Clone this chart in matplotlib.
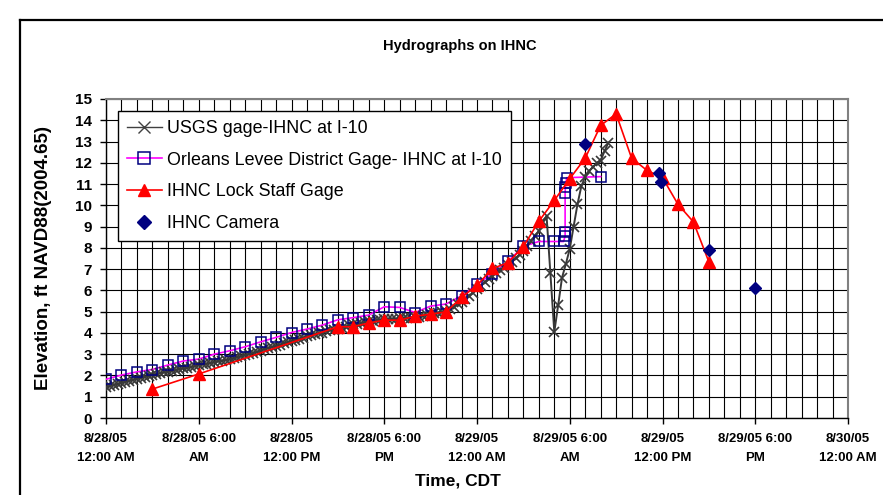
import numpy as np
import matplotlib
matplotlib.use("Agg")
import matplotlib.pyplot as plt
from matplotlib.lines import Line2D
from matplotlib.ticker import MultipleLocator

plt.rcParams['font.family'] = ['Liberation Sans', 'DejaVu Sans']

# hours after 8/28/05 12:00 AM CDT
usgs_t = list(np.arange(0, 28.75, 0.25)) + [28.75, 29.0, 29.25, 29.5, 29.75, 30.0, 30.25,
                                             30.5, 30.75, 31.0, 31.25, 31.5, 31.75, 32.0,
                                             32.25, 32.5]
usgs_v = [1.45, 1.50, 1.56, 1.60, 1.65, 1.70, 1.76, 1.80, 1.85, 1.89, 1.94, 1.98,
          2.02, 2.06, 2.11, 2.14, 2.18, 2.22, 2.26, 2.29, 2.33, 2.37, 2.40, 2.44,
          2.48, 2.52, 2.55, 2.59, 2.62, 2.66, 2.70, 2.73, 2.76, 2.81, 2.85, 2.90,
          2.95, 3.00, 3.06, 3.11, 3.17, 3.23, 3.29, 3.34, 3.40, 3.45, 3.51, 3.56,
          3.62, 3.67, 3.73, 3.78, 3.84, 3.88, 3.93, 3.98, 4.02, 4.07, 4.12, 4.16,
          4.20, 4.25, 4.30, 4.35, 4.40, 4.44, 4.47, 4.51, 4.54, 4.57, 4.60, 4.62,
          4.64, 4.65, 4.66, 4.67, 4.68, 4.69, 4.71, 4.72, 4.74, 4.77, 4.81, 4.84,
          4.88, 4.92, 4.96, 5.00, 5.05, 5.14, 5.24, 5.34, 5.45, 5.59, 5.74, 5.89,
          6.05, 6.21, 6.38, 6.54, 6.70, 6.82, 6.95, 7.07, 7.20, 7.35, 7.52, 7.68,
          7.85, 8.08, 8.32, 8.56, 8.80, 9.20, 9.50,
          6.80, 4.05, 5.30, 6.60, 7.25, 7.95, 9.00, 10.05, 10.90, 11.35, 11.60,
          11.80, 12.00, 12.10, 12.55, 12.95]

old_t = list(range(0, 30)) + [29.6, 29.7, 29.7, 29.7, 29.72, 29.75, 29.8, 32.0]
old_v = [1.82, 2.02, 2.17, 2.28, 2.49, 2.68, 2.77, 3.00, 3.16, 3.35, 3.58, 3.79,
         4.02, 4.18, 4.37, 4.62, 4.72, 4.84, 5.23, 5.20, 4.96, 5.26, 5.36, 5.75,
         6.28, 6.79, 7.36, 8.07, 8.30, 8.30,
         8.30, 8.55, 8.75, 10.60, 10.85, 11.05, 11.30, 11.35]

lock_t = [3, 6] + list(range(15, 40))
lock_v = [1.36, 2.07, 4.29, 4.29, 4.47, 4.60, 4.60, 4.79, 4.88, 4.99, 5.67, 6.24,
          7.03, 7.30, 8.06, 9.25, 10.23, 11.25, 12.22, 13.76, 14.30, 12.22, 11.64,
          11.30, 10.05, 9.22, 7.34]

cam_t = [31.0, 35.8, 35.9, 39.0, 42.0]
cam_v = [12.9, 11.5, 11.1, 7.9, 6.1]

xticks = [0, 6, 12, 18, 24, 30, 36, 42, 48]
xlabels = ["8/28/05\n12:00 AM", "8/28/05 6:00\nAM", "8/28/05\n12:00 PM",
           "8/28/05 6:00\nPM", "8/29/05\n12:00 AM", "8/29/05 6:00\nAM",
           "8/29/05\n12:00 PM", "8/29/05 6:00\nPM", "8/30/05\n12:00 AM"]

W, H = 883, 495
fig = plt.figure(figsize=(W / 100, H / 100), dpi=100)
ax = fig.add_axes([106 / W, 1 - 418 / H, 742 / W, 319 / H])

ax.plot(old_t, old_v, color='#FF00FF', lw=1.2, zorder=3)
ax.plot(usgs_t, usgs_v, color='#383838', lw=1.4, marker='x', ms=6.5, mew=1.2, zorder=4)
ax.plot(old_t, old_v, ls='none', marker='s', ms=6.5, mfc='none', mec='#000080',
        mew=1.1, zorder=5)
ax.plot(lock_t, lock_v, color='#FF0000', lw=1.2, marker='^', ms=8.5, zorder=6)
ax.plot(cam_t, cam_v, ls='none', marker='D', ms=6.5, color='#000080', zorder=7)

ax.set_xlim(0, 48)
ax.set_ylim(0, 15)
ax.xaxis.set_minor_locator(MultipleLocator(1))
ax.set_xticks(xticks)
ax.set_xticklabels(xlabels, fontsize=9.5, fontweight='bold', linespacing=1.75)
ax.set_yticks(range(0, 16))
ax.tick_params(axis='y', labelsize=11, length=4, width=1, pad=6)
for lb in ax.get_yticklabels():
    lb.set_fontweight('bold')
ax.tick_params(axis='x', which='major', length=4, width=1, pad=7)
ax.tick_params(axis='x', which='minor', length=0)
ax.grid(True, which='both', color='black', lw=0.8)
ax.set_axisbelow(True)
for s in ['top', 'right']:
    ax.spines[s].set_color('#808080')
    ax.spines[s].set_linewidth(1.5)
for s in ['left', 'bottom']:
    ax.spines[s].set_linewidth(1.0)

handles = [
    Line2D([], [], color='#404040', lw=1, marker='x', ms=9, mew=1),
    Line2D([], [], color='#FF00FF', lw=1.2, marker='s', ms=8, mfc='none', mec='#000080', mew=1.1),
    Line2D([], [], color='#FF0000', lw=1.2, marker='^', ms=9),
    Line2D([], [], ls='none', marker='D', ms=7.5, color='#000080'),
]
names = ["USGS gage-IHNC at I-10", "Orleans Levee District Gage- IHNC at I-10",
         "IHNC Lock Staff Gage", "IHNC Camera"]
leg = ax.legend(handles, names, loc='upper left', bbox_to_anchor=(12 / 742, (418 - 111) / 319),
                borderaxespad=0, fontsize=12.9, frameon=True, fancybox=False,
                edgecolor='black', framealpha=1, handlelength=1.95, handletextpad=0.3,
                labelspacing=0.82, borderpad=0.5)
leg.get_frame().set_linewidth(1.0)
leg.set_zorder(10)

fig.text(460 / W, 1 - 46 / H, "Hydrographs on IHNC", ha='center', va='center',
         fontsize=10.5, fontweight='bold')
fig.text(44 / W, 1 - 258 / H, "Elevation, ft NAVD88(2004.65)", ha='center', va='center',
         rotation=90, fontsize=13.5, fontweight='bold')
fig.text(458 / W, 1 - 481 / H, "Time, CDT", ha='center', va='center',
         fontsize=12.5, fontweight='bold')

# chart area frame (only left and top edges are inside the picture)
fig.add_artist(Line2D([20 / W, 20 / W], [0, 1 - 20 / H], color='black', lw=1.6))
fig.add_artist(Line2D([20 / W, 1], [1 - 20 / H, 1 - 20 / H], color='black', lw=1.6))

fig.savefig("out.png", dpi=100)
